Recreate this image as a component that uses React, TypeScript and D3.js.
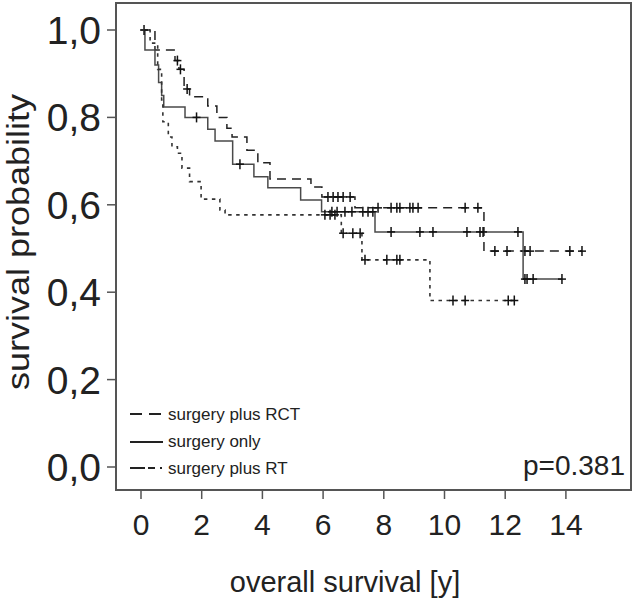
import React from "react";
import * as d3 from "d3";

// ---- data ----
const xTicks = [0, 2, 4, 6, 8, 10, 12, 14];
const yTicks = [0, 0.2, 0.4, 0.6, 0.8, 1.0];
const yTickLabels = ["0,0", "0,2", "0,4", "0,6", "0,8", "1,0"];

// surgery plus RCT (dashed)
const rctSteps: [number, number][] = [
  [0.46, 0.954], [1.12, 0.93], [1.25, 0.91], [1.42, 0.865], [1.6, 0.847],
  [2.2, 0.826], [2.5, 0.8], [2.83, 0.775], [3.0, 0.755], [3.49, 0.725],
  [3.85, 0.696], [4.25, 0.659], [5.6, 0.641], [5.96, 0.618], [7.05, 0.593],
  [11.3, 0.494],
];
const rctEnd = 14.53;
const rctCensors = [1.2, 1.3, 1.52, 6.16, 6.33, 6.49, 6.66, 6.89, 7.81, 8.24, 8.43, 8.53, 8.86, 8.96, 9.13, 10.68, 11.1, 11.66, 12.06, 12.65, 12.82, 14.13, 14.53];

// surgery only (solid)
const onlySteps: [number, number][] = [
  [0.13, 0.954], [0.46, 0.92], [0.58, 0.88], [0.68, 0.85], [0.75, 0.824],
  [1.45, 0.8], [2.2, 0.773], [2.44, 0.746], [3.02, 0.693], [3.72, 0.664],
  [4.18, 0.639], [5.26, 0.611], [5.95, 0.584], [7.71, 0.538], [12.59, 0.43],
];
const onlyEnd = 13.87;
const onlyCensors = [0.1, 1.83, 3.26, 6.29, 6.46, 6.72, 6.95, 7.31, 7.48, 7.64, 8.24, 9.19, 9.62, 10.74, 11.17, 11.27, 12.42, 12.65, 12.72, 12.92, 13.87];

// surgery plus RT (dotted)
const rtSteps: [number, number][] = [
  [0.3, 0.97], [0.55, 0.91], [0.68, 0.84], [0.72, 0.79], [0.9, 0.755],
  [1.02, 0.733], [1.2, 0.718], [1.35, 0.684], [1.6, 0.653], [1.98, 0.613],
  [2.6, 0.588], [2.77, 0.577], [6.6, 0.535], [7.28, 0.474], [9.52, 0.381],
];
const rtEnd = 12.3;
const rtCensors = [6.06, 6.23, 6.39, 6.66, 6.98, 7.22, 7.38, 8.1, 8.43, 8.53, 10.28, 10.68, 12.1, 12.3];

const legendLabels = ["surgery plus RCT", "surgery only", "surgery plus RT"];
const pValueText = "p=0.381";

// ---- layout ----
const W = 634, H = 599;
const frame = { left: 116, top: 3, right: 631, bottom: 490 };
const FONT = "'Liberation Sans', Arial, sans-serif";

const x = d3.scaleLinear().domain([0, 14]).range([141, 141 + 14 * 30.35]);
const y = d3.scaleLinear().domain([0, 1]).range([467, 30]);

function survAt(steps: [number, number][], t: number) {
  let s = 1;
  for (const [ti, si] of steps) if (ti <= t) s = si;
  return s;
}

function pathFor(steps: [number, number][], end: number) {
  const pts: [number, number][] = [[0, 1], ...steps, [end, steps[steps.length - 1][1]]];
  return d3.line<[number, number]>().x(d => x(d[0])).y(d => y(d[1])).curve(d3.curveStepAfter)(pts) || "";
}

const series = [
  { steps: rctSteps, end: rctEnd, censors: rctCensors, dash: "9,6", color: "#222", width: 1.5 },
  { steps: onlySteps, end: onlyEnd, censors: onlyCensors, dash: undefined, color: "#4a4a4a", width: 1.5 },
  { steps: rtSteps, end: rtEnd, censors: rtCensors, dash: "3.5,4.5", color: "#333", width: 1.6 },
];

export default function App() {
  return (
    <svg width={W} height={H} style={{ position: "absolute", left: 0, top: 0, background: "#fff" }}>
      <rect x={0} y={0} width={W} height={H} fill="#fff" />
      {/* frame */}
      <rect x={frame.left} y={frame.top} width={frame.right - frame.left} height={frame.bottom - frame.top}
        fill="none" stroke="#555" strokeWidth={2} />
      {/* y ticks */}
      {yTicks.map((v, i) => (
        <g key={"y" + i}>
          <line x1={107} x2={frame.left} y1={y(v)} y2={y(v)} stroke="#555" strokeWidth={1.5} />
          <text x={101} y={y(v) + 14} textAnchor="end" fontFamily={FONT} fontSize={39} fill="#222">{yTickLabels[i]}</text>
        </g>
      ))}
      {/* x ticks */}
      {xTicks.map((v) => (
        <g key={"x" + v}>
          <line x1={x(v)} x2={x(v)} y1={frame.bottom} y2={frame.bottom + 9} stroke="#555" strokeWidth={1.5} />
          <text x={x(v)} y={535} textAnchor="middle" fontFamily={FONT} fontSize={30} fill="#222">{v}</text>
        </g>
      ))}
      {/* axis titles */}
      <text x={345} y={592} textAnchor="middle" fontFamily={FONT} fontSize={29} fill="#222">overall survival [y]</text>
      <text transform={`translate(29,242) rotate(-90)`} textAnchor="middle" fontFamily={FONT} fontSize={31}
        textLength={296} lengthAdjust="spacingAndGlyphs" fill="#222">survival probability</text>
      {/* curves */}
      {series.map((s, i) => (
        <g key={"s" + i}>
          <path d={pathFor(s.steps, s.end)} fill="none" stroke={s.color} strokeWidth={s.width} strokeDasharray={s.dash} />
          {s.censors.map((c, j) => {
            const cx = x(c), cy = y(survAt(s.steps, c));
            return (
              <g key={j}>
                <line x1={cx} x2={cx} y1={cy - 5} y2={cy + 5} stroke="#111" strokeWidth={1.5} />
                <line x1={cx - 4} x2={cx + 4} y1={cy} y2={cy} stroke="#111" strokeWidth={1.5} />
              </g>
            );
          })}
        </g>
      ))}
      {/* legend */}
      <line x1={130} x2={162} y1={414} y2={414} stroke="#222" strokeWidth={2} strokeDasharray="12,7" />
      <line x1={130} x2={163} y1={442} y2={442} stroke="#222" strokeWidth={2} />
      <line x1={130} x2={168} y1={468} y2={468} stroke="#222" strokeWidth={2} strokeDasharray="15,3,7,5,2,6" />
      {legendLabels.map((l, i) => (
        <text key={l} x={168} y={420 + i * 27} fontFamily={FONT} fontSize={17} fill="#222">{l}</text>
      ))}
      <text x={625} y={475} textAnchor="end" fontFamily={FONT} fontSize={28} fill="#222">{pValueText}</text>
    </svg>
  );
}
